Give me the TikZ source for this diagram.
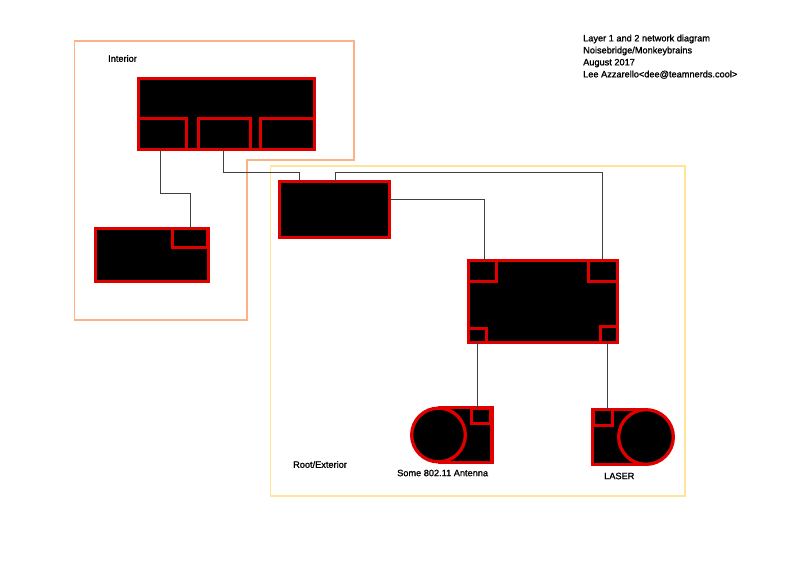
\documentclass[tikz,border=0pt]{standalone}
\usepackage{fontspec}
\setmainfont{Liberation Sans}
\newfontfamily\labelfont[FakeBold=1.2]{Liberation Sans}
\definecolor{boxred}{HTML}{E00000}
\definecolor{interiorcolor}{HTML}{FFB183}
\definecolor{exteriorcolor}{HTML}{FFE59A}
\tikzset{
  netbox/.style={draw=boxred,fill=black,line width=3.3pt,rectangle,inner sep=0pt,outer sep=0pt},
  netdisc/.style={draw=boxred,fill=black,line width=3.3pt,circle,inner sep=0pt,outer sep=0pt},
  netlink/.style={draw=black!75,line width=0.8pt},
  zonelabel/.style={font=\fontsize{9.2}{11}\selectfont\labelfont,inner sep=0pt}
}
\begin{document}
\begin{tikzpicture}[x=1pt,y=-1pt]
  \useasboundingbox (0,0) rectangle (800,566);
  % zones
  \draw [interiorcolor,line width=1.2pt] (74.7,41) -- (354,41) -- (354,160) -- (247,160) -- (247,320) -- (74.7,320) -- cycle;
  \draw [exteriorcolor,line width=1.2pt] (270.7,166) rectangle (685,496);
  % interior
  \node [netbox,minimum width=175.7,minimum height=70.7] (switch) at (226.5,114) {};
  \node [netbox,minimum width=47.7,minimum height=30.7] (switchA) at (162.5,134) {};
  \node [netbox,minimum width=51.7,minimum height=30.7] (switchB) at (224.5,134) {};
  \node [netbox,minimum width=53.7,minimum height=30.7] (switchC) at (287.5,134) {};
  \node [netbox,minimum width=112.7,minimum height=52.7] (server) at (152,255) {};
  \node [netbox,minimum width=34.7,minimum height=18.7] (serverport) at (190,238) {};
  % exterior
  \node [netbox,minimum width=109.7,minimum height=55.7] (router) at (334.5,209.5) {};
  \node [netbox,minimum width=148.7,minimum height=81.7] (radio) at (543,301.5) {};
  \node [netbox,minimum width=27.7,minimum height=20.7] (radioA) at (482.5,271) {};
  \node [netbox,minimum width=28.7,minimum height=20.7] (radioB) at (603,271) {};
  \node [netbox,minimum width=17.7,minimum height=13.7] (radioC) at (477.5,335.5) {};
  \node [netbox,minimum width=16.7,minimum height=15.7] (radioD) at (609,334.5) {};
  \node [netbox,minimum width=52.7,minimum height=54.7] (antenna) at (465.5,435) {};
  \node [netdisc,minimum size=53.7] (antennadish) at (438.5,435) {};
  \node [netbox,minimum width=18.7,minimum height=14.7] (antennaport) at (481,416) {};
  \node [netbox,minimum width=52.7,minimum height=54.7] (laser) at (619,437) {};
  \node [netdisc,minimum size=54.7] (laserdish) at (646,437) {};
  \node [netbox,minimum width=18.7,minimum height=15.7] (laserport) at (603,417.5) {};
  % links
  \coordinate (bendA) at (160.5,193);
  \coordinate (bendB) at (223.5,172.5);
  \coordinate (bendC) at (335.5,172.5);
  \coordinate (bendD) at (484,199.5);
  \draw [netlink] (switchA.south -| bendA) -- (bendA) -| (serverport.north);
  \draw [netlink] (switchB.south -| bendB) -- (bendB) -- (bendB -| 299,0) -- (299,180.5);
  \draw [netlink] (router.north -| bendC) -- (bendC) -- (bendC -| 602,0) -- (602,259);
  \draw [netlink] (router.east |- bendD) -- (bendD) -- (bendD |- radio.north);
  \draw [netlink] (radioC.south) -- (antennaport.north -| 477.5,0);
  \draw [netlink] (radioD.south -| 607,0) -- (laserport.north -| 607,0);
  % labels
  \node [zonelabel,anchor=west] (interiorlabel) at (108,58.5) {Interior};
  \node [zonelabel,anchor=west] (exteriorlabel) at (293,464.5) {Root/Exterior};
  \node [zonelabel,anchor=west] (antennalabel) at (397,473) {Some 802.11 Antenna};
  \node [zonelabel,anchor=west] (laserlabel) at (604,476) {LASER};
  \node [zonelabel,anchor=north west,align=left,font=\fontsize{9.2}{12}\selectfont\labelfont] (title) at (583,34.5)
    {Layer 1 and 2 network diagram\\Noisebridge/Monkeybrains\\August 2017\\Lee Azzarello\textless dee@teamnerds.cool\textgreater};
\end{tikzpicture}
\end{document}
